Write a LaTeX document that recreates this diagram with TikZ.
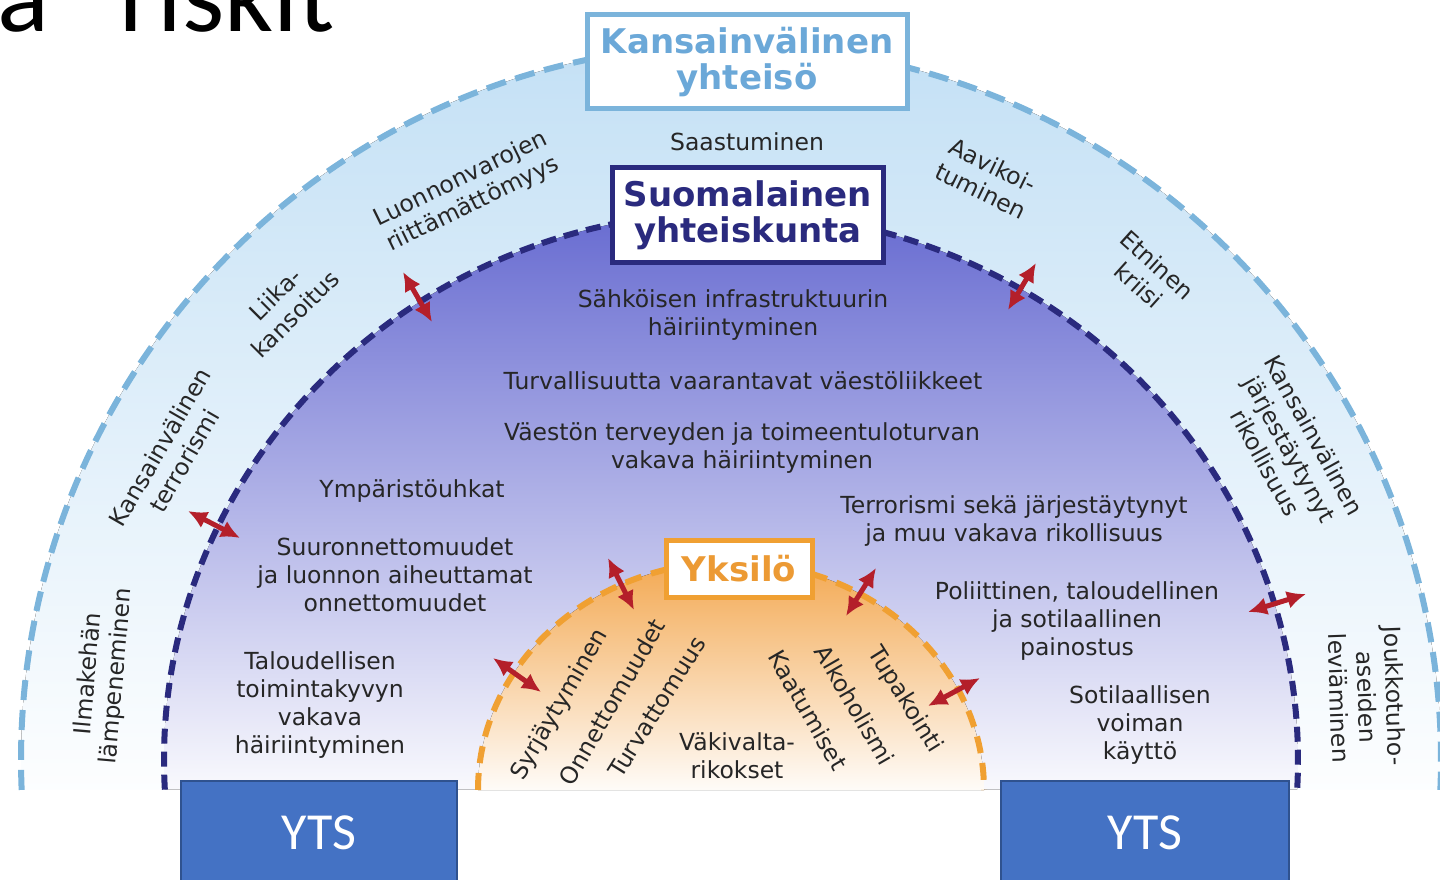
\documentclass[tikz,border=0pt]{standalone}
\usepackage{fontspec}
\setmainfont{DejaVu Sans}
\newfontfamily\ytsfont{Carlito}
\usetikzlibrary{arrows.meta,positioning}
\tikzset{>={Latex[length=19pt,width=18pt]}}
\definecolor{teksti}{HTML}{262626}
\definecolor{kvline}{HTML}{7BB4DB}
\definecolor{kvtext}{HTML}{6BA8D8}
\definecolor{kvtop}{HTML}{C3E0F5}
\definecolor{navyline}{HTML}{2A2A7E}
\definecolor{navytop}{HTML}{6569D0}
\definecolor{orangeline}{HTML}{F0A032}
\definecolor{orangetop}{HTML}{F3A953}
\definecolor{yktext}{HTML}{EC9A34}
\definecolor{riskred}{HTML}{B41F2A}
\definecolor{ytsblue}{HTML}{4472C4}
\definecolor{ytsedge}{HTML}{2F528F}
\tikzset{
  riski/.style={text=teksti, align=center, inner sep=0pt,
    font=\fontsize{23.5}{28}\selectfont},
  taso/.style={draw=#1, line width=5pt, fill=white, align=center, inner sep=0pt,
    font=\fontsize{34}{36}\selectfont\bfseries},
  raja/.style={line width=6pt, dash pattern=on #1},
  vuoro/.style={<->, riskred, line width=5pt},
  yts/.style={fill=ytsblue, draw=ytsedge, line width=1.5pt, text=white, anchor=north,
    font=\ytsfont\fontsize{52}{52}\selectfont, minimum height=104pt}
}

\begin{document}
\begin{tikzpicture}[x=1pt,y=1pt]
  \useasboundingbox (0,0) rectangle (1440,879);
  \pgfmathsetmacro{\cx}{731};
  \pgfmathsetmacro{\cy}{119};
  % kolme kehää
  \fill[top color=kvtop, bottom color=white!96!kvtop]
    (\cx,\cy) ++(182.4:710pt and 715pt) arc[start angle=182.4, end angle=-2.4, x radius=710pt, y radius=715pt] -- cycle;
  \draw[kvline, raja=20pt off 10pt]
    (\cx,\cy) ++(182.4:710pt and 715pt) arc[start angle=182.4, end angle=-2.4, x radius=710pt, y radius=715pt];
  \fill[top color=navytop, bottom color=white!96!navytop]
    (\cx,\cy) ++(183.1:567pt and 548pt) arc[start angle=183.1, end angle=-3.1, x radius=567pt, y radius=548pt] -- cycle;
  \draw[navyline, raja=15pt off 8pt]
    (\cx,\cy) ++(183.1:567pt and 548pt) arc[start angle=183.1, end angle=-3.1, x radius=567pt, y radius=548pt];
  \fill[top color=orangetop, bottom color=white!96!orangetop]
    (\cx-253,89) arc[start angle=180, end angle=0, x radius=253pt, y radius=228pt] -- cycle;
  \draw[orangeline, raja=17pt off 10pt]
    (\cx-253,89) arc[start angle=180, end angle=0, x radius=253pt, y radius=228pt];

  \node[anchor=base west, font=\ytsfont\fontsize{108}{108}\selectfont] (otsikko) at (-6,847)
    {a\hspace{46pt} riskit};

  \node[taso=kvline, text=kvtext, minimum width=320pt, minimum height=94pt] (kv) at (747,817)
    {Kansainvälinen\\yhteisö};
  \node[taso=navyline, text=navyline, minimum width=271pt, minimum height=95pt] (suomi) at (748,664)
    {Suomalainen\\yhteiskunta};
  \node[taso=orangeline, text=yktext, minimum width=146pt, minimum height=56pt] (yksilo) at (739,310)
    {Yksilö};
  \node[riski, below=21pt of kv] (saast) {Saastuminen};

  % ulompi kehä
  \node[riski, rotate=26] (luonnonv) at (467,687) {Luonnonvarojen\\riittämättömyys};
  \node[riski, rotate=45] (liika) at (285,575) {Liika-\\kansoitus};
  \node[riski, rotate=60] (kvterr) at (172,425) {Kansainvälinen\\terrorismi};
  \node[riski, rotate=85] (ilmasto) at (103,204) {Ilmakehän\\lämpeneminen};
  \node[riski, rotate=-26] (aavik) at (987,701) {Aavikoi-\\tuminen};
  \node[riski, rotate=-42] (etninen) at (1148,604) {Etninen\\kriisi};
  \node[riski, rotate=-61] (kvrikos) at (1290,430) {Kansainvälinen\\järjestäytynyt\\rikollisuus};
  \node[riski, rotate=-88] (joukko) at (1367,182) {Joukkotuho-\\aseiden\\leviäminen};

  % yhteiskunta
  \node[riski] (sahko) at (733,564) {Sähköisen infrastruktuurin\\häiriintyminen};
  \node[riski] (liikkeet) at (743,498) {Turvallisuutta vaarantavat väestöliikkeet};
  \node[riski] (terveys) at (742,431) {Väestön terveyden ja toimeentuloturvan\\vakava häiriintyminen};
  \node[riski] (ymparisto) at (412,388) {Ympäristöuhkat};
  \node[riski] (terrori) at (1014,358) {Terrorismi sekä järjestäytynyt\\ja muu vakava rikollisuus};
  \node[riski] (suuronn) at (395,304) {Suuronnettomuudet\\ja luonnon aiheuttamat\\onnettomuudet};
  \node[riski] (painostus) at (1077,258) {Poliittinen, taloudellinen\\ja sotilaallinen\\painostus};
  \node[riski] (talous) at (320,174) {Taloudellisen\\toimintakyvyn\\vakava\\häiriintyminen};
  \node[riski] (sotilas) at (1140,154) {Sotilaallisen\\voiman\\käyttö};

  % yksilö
  \node[riski] (vakivalta) at (737,123) {Väkivalta-\\rikokset};
  \node[riski, rotate=60] (syrja) at (560,174) {Syrjäytyminen};
  \node[riski, rotate=60] (onnett) at (612,177) {Onnettomuudet};
  \node[riski, rotate=58] (turvatt) at (657,172) {Turvattomuus};
  \node[riski, rotate=-60] (kaatum) at (808,169) {Kaatumiset};
  \node[riski, rotate=-60] (alkoh) at (855,174) {Alkoholismi};
  \node[riski, rotate=-58] (tupak) at (905,179) {Tupakointi};

  % vuorovaikutus
  \foreach \n/\xa/\ya/\xb/\yb in {a/403/607/432/557, b/1036/616/1008/569,
      c/188/368/240/341, d/1248/267/1306/285, e/608/321/634/269,
      f/876/311/846/263, g/493/221/541/187, h/980/201/928/173}{
    \coordinate (s\n) at (\xa,\ya);
    \coordinate (e\n) at (\xb,\yb);
    \draw[vuoro] (s\n) -- (e\n);
  }

  \node[yts, minimum width=276pt] (ytsL) at (319,99) {YTS};
  \node[yts, minimum width=288pt] (ytsR) at (1145,99) {YTS};
\end{tikzpicture}
\end{document}
